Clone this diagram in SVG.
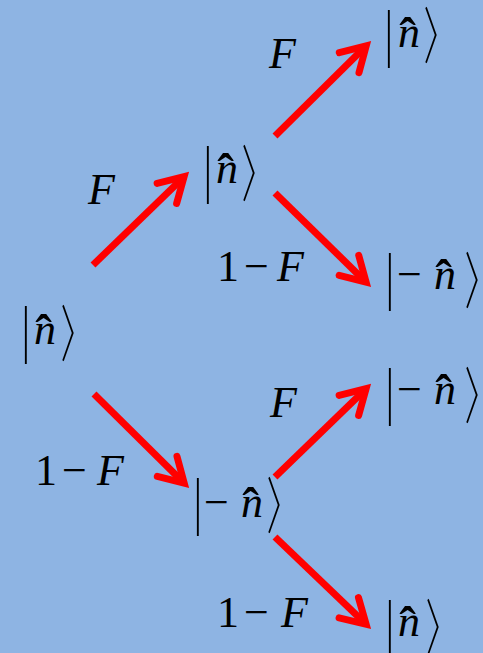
<svg xmlns="http://www.w3.org/2000/svg" width="483" height="653" viewBox="0 0 483 653">
<style>
.t{font-family:"Liberation Serif","Times New Roman",serif;font-size:44px;fill:#000}
.i{font-style:italic}
.bar{font-family:"Liberation Serif",serif;font-size:64px;fill:#000}
.br{font-family:"DejaVu Serif",serif;font-size:64px;fill:#000}
.hat{font-family:"Liberation Serif",serif;font-size:50px;font-weight:bold;fill:#000}
.ar{stroke:#FF0000;stroke-width:7;fill:none;stroke-linecap:butt}
</style>
<defs>
<marker id="ah" markerUnits="userSpaceOnUse" orient="auto" refX="0" refY="0" markerWidth="60" markerHeight="60" viewBox="-40 -30 60 60" overflow="visible">
<path d="M-24,-14 L0,0 L-24,14" fill="none" stroke="#FF0000" stroke-width="7" stroke-linecap="round" stroke-linejoin="miter" stroke-miterlimit="10"/>
</marker>
</defs>
<rect width="483" height="653" fill="#8EB4E3"/>
<g id="connectors">
<line class="ar" x1="93" y1="265" x2="184.1" y2="176.7" marker-end="url(#ah)"/>
<line class="ar" x1="275" y1="136" x2="366.2" y2="45.8" marker-end="url(#ah)"/>
<line class="ar" x1="275" y1="193" x2="366.1" y2="282.2" marker-end="url(#ah)"/>
<line class="ar" x1="94" y1="394" x2="184.2" y2="483.2" marker-end="url(#ah)"/>
<line class="ar" x1="275" y1="477" x2="366.1" y2="388.7" marker-end="url(#ah)"/>
<line class="ar" x1="275" y1="537" x2="366.1" y2="624.3" marker-end="url(#ah)"/>
</g>
<g id="ket-root">
<text class="bar" transform="translate(22,350) scale(0.6,1)">|</text>
<text class="t i" x="34" y="344">n</text>
<text class="hat" x="35.2" y="349.5">ˆ</text>
<text class="br" transform="translate(56,356) scale(0.75,1)">〉</text>
</g>
<g id="ket-n1">
<text class="bar" transform="translate(204,190) scale(0.6,1)">|</text>
<text class="t i" x="216" y="183">n</text>
<text class="hat" x="217.2" y="188.5">ˆ</text>
<text class="br" transform="translate(237,196) scale(0.75,1)">〉</text>
</g>
<g id="ket-n2">
<text class="bar" transform="translate(385,54) scale(0.6,1)">|</text>
<text class="t i" x="398" y="47">n</text>
<text class="hat" x="399.2" y="52.5">ˆ</text>
<text class="br" transform="translate(419,58) scale(0.75,1)">〉</text>
</g>
<g id="ket-m1">
<text class="bar" transform="translate(386,297) scale(0.6,1)">|</text>
<text class="t" x="397" y="289">−</text>
<text class="t i" x="434" y="289">n</text>
<text class="hat" x="435.2" y="294.5">ˆ</text>
<text class="br" transform="translate(460,303) scale(0.75,1)">〉</text>
</g>
<g id="ket-m2">
<text class="bar" transform="translate(386,412) scale(0.6,1)">|</text>
<text class="t" x="397" y="404">−</text>
<text class="t i" x="434" y="404">n</text>
<text class="hat" x="435.2" y="409.5">ˆ</text>
<text class="br" transform="translate(460,418) scale(0.75,1)">〉</text>
</g>
<g id="ket-m3">
<text class="bar" transform="translate(194,522) scale(0.6,1)">|</text>
<text class="t" x="204" y="517">−</text>
<text class="t i" x="241" y="517">n</text>
<text class="hat" x="242.2" y="522.5">ˆ</text>
<text class="br" transform="translate(262,528) scale(0.75,1)">〉</text>
</g>
<g id="ket-n3">
<text class="bar" transform="translate(386,644) scale(0.6,1)">|</text>
<text class="t i" x="398" y="636">n</text>
<text class="hat" x="399.2" y="641.5">ˆ</text>
<text class="br" transform="translate(421,650) scale(0.75,1)">〉</text>
</g>
<g id="labels">
<text class="t i" x="269" y="68">F</text>
<text class="t i" x="88" y="204">F</text>
<text class="t" y="281"><tspan x="217">1</tspan><tspan x="244">−</tspan><tspan class="i" x="277">F</tspan></text>
<text class="t i" x="270" y="417">F</text>
<text class="t" y="485"><tspan x="35">1</tspan><tspan x="62">−</tspan><tspan class="i" x="97">F</tspan></text>
<text class="t" y="627"><tspan x="217">1</tspan><tspan x="244">−</tspan><tspan class="i" x="281">F</tspan></text>
</g>
</svg>
